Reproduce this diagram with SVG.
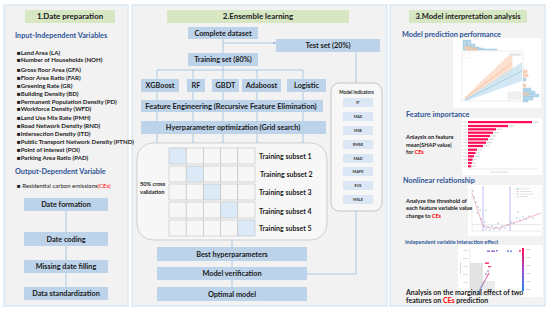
<svg xmlns="http://www.w3.org/2000/svg" width="550" height="310" viewBox="0 0 550 310">
<defs>
<style>
.panel{fill:#f2f2f2;stroke:#d2e4f3;stroke-width:1.2}
.title{fill:#d7e7c3}
.box{fill:#bdd3ea}
.t{font-family:Lato,"Open Sans","Liberation Sans",sans-serif;font-weight:700;fill:#1a1a1a}
.bt{font-size:7.3px;text-anchor:middle}
.tt{font-size:7.9px;text-anchor:middle}
.h{fill:#2f5597;font-size:7.3px}
.li{font-size:6.1px}
.red{fill:#ff0000}
.con{stroke:#8fb4dc;stroke-width:0.7;fill:none}
.cell{fill:#f7f7f7;stroke:#bfbfbf;stroke-width:0.6}
.hl{fill:#dce9f7}
.ind{fill:#dbe7f4}
.it{font-size:3.8px;text-anchor:middle;fill:#333}
.card{fill:#ffffff}
.bar{fill:#ff0d57}
.lbl{fill:#d9d9d9}
.dot{fill:#3d8fd6}
.sm{font-size:5.6px}
</style>
<marker id="arr" viewBox="0 0 6 6" refX="5.5" refY="3" markerWidth="4" markerHeight="4" orient="auto"><path d="M0,0 L6,3 L0,6 z" fill="#8fb4dc"/></marker>
<linearGradient id="cb" x1="0" y1="0" x2="0" y2="1"><stop offset="0" stop-color="#ff0d57"/><stop offset="0.5" stop-color="#a44bd0"/><stop offset="1" stop-color="#1e88e5"/></linearGradient>
<linearGradient id="dl" x1="0" y1="1" x2="1" y2="0"><stop offset="0" stop-color="#1e88e5"/><stop offset="1" stop-color="#ff0d57"/></linearGradient>
</defs>

<rect width="550" height="310" fill="#ffffff"/>

<g id="panels">
<rect class="panel" x="4" y="5" width="124" height="301"/>
<rect class="panel" x="132" y="5" width="255" height="301"/>
<rect class="panel" x="390" y="5" width="155" height="301"/>
</g>

<g id="panel1">
<rect class="title" x="25" y="10" width="90" height="13"/>
<text class="t tt" x="70" y="19.4">1.Date preparation</text>
<text class="t h" x="15" y="37.6">Input-Independent Variables</text>
<g class="t li">
<text x="17" y="54.8">■Land Area (LA)</text>
<text x="17" y="62.4">■Number of Households (NOH)</text>
<text x="17" y="71.8">■Gross floor Area (GFA)</text>
<text x="17" y="80.1">■Floor Area Ratio (FAR)</text>
<text x="17" y="87.8">■Greening Rate (GR)</text>
<text x="17" y="95.8">■Building Density (BD)</text>
<text x="17" y="103.8">■Permanent Population Density (PD)</text>
<text x="17" y="111.4">■Workforce Density (WFD)</text>
<text x="17" y="119.8">■Land Use Mix Rate (PMH)</text>
<text x="17" y="128.1">■Road Network Density (RND)</text>
<text x="17" y="136.1">■Intersection Density (ITD)</text>
<text x="17" y="144.1">■Public Transport Network Density (PTND)</text>
<text x="17" y="152.4">■Point of Interest (POI)</text>
<text x="17" y="160.4">■Parking Area Ratio (PAD)</text>
</g>
<text class="t h" x="15" y="173.6">Output-Dependent Variable</text>
<text class="t" x="17" y="188.2" style="font-weight:400;font-size:6px">■  Residential carbon emissions<tspan class="red">(CEs)</tspan></text>
</g>

<g id="connectors">
<line class="con" x1="66" y1="211" x2="66" y2="232"/>
<line class="con" x1="66" y1="246" x2="66" y2="260"/>
<line class="con" x1="66" y1="273" x2="66" y2="287"/>
<line class="con" x1="223" y1="39" x2="223" y2="70"/>
<line class="con" x1="223" y1="43" x2="276" y2="43" marker-end="url(#arr)"/>
<line class="con" x1="157" y1="70" x2="303" y2="70"/>
<line class="con" x1="157" y1="70" x2="157" y2="143"/>
<line class="con" x1="193" y1="70" x2="193" y2="143"/>
<line class="con" x1="223" y1="70" x2="223" y2="143"/>
<line class="con" x1="257" y1="70" x2="257" y2="143"/>
<line class="con" x1="303" y1="70" x2="303" y2="143"/>
<line class="con" x1="232" y1="240" x2="232" y2="287"/>
<line class="con" x1="356" y1="52" x2="356" y2="83"/>
<polyline class="con" points="356,211 356,274 307,274"/>
</g>

<g id="date-formation"><rect class="box" x="24" y="198" width="84" height="13"/><text class="t bt" x="66" y="207">Date  formation</text></g>
<g id="date-coding"><rect class="box" x="24" y="232" width="84" height="14"/><text class="t bt" x="66" y="241.5">Date  coding</text></g>
<g id="missing-date"><rect class="box" x="24" y="260" width="84" height="13"/><text class="t bt" x="66" y="269">Missing date filling</text></g>
<g id="data-std"><rect class="box" x="24" y="287" width="84" height="13"/><text class="t bt" x="66" y="296">Data standardization</text></g>

<g id="panel2-title">
<rect class="title" x="167" y="10" width="182" height="13"/>
<text class="t tt" x="258" y="19.4">2.Ensemble  learning</text>
</g>
<g id="complete-dataset"><rect class="box" x="188" y="27" width="70" height="12"/><text class="t bt" x="223" y="35.5">Complete  dataset</text></g>
<g id="test-set"><rect class="box" x="276" y="39" width="104" height="13"/><text class="t bt" x="328" y="48">Test  set (20%)</text></g>
<g id="training-set"><rect class="box" x="188" y="53" width="70" height="13"/><text class="t bt" x="223" y="62">Training set (80%)</text></g>
<g id="xgboost"><rect class="box" x="141" y="79" width="38" height="13"/><text class="t bt" x="160" y="88">XGBoost</text></g>
<g id="rf"><rect class="box" x="187" y="79" width="18" height="13"/><text class="t bt" x="196" y="88">RF</text></g>
<g id="gbdt"><rect class="box" x="212" y="79" width="27" height="13"/><text class="t bt" x="225.5" y="88">GBDT</text></g>
<g id="adaboost"><rect class="box" x="242" y="79" width="39" height="13"/><text class="t bt" x="261.5" y="88">Adaboost</text></g>
<g id="logistic"><rect class="box" x="287" y="79" width="39" height="13"/><text class="t bt" x="306.5" y="88">Logistic</text></g>
<g id="feature-eng"><rect class="box" x="141" y="100" width="182" height="12"/><text class="t bt" x="231" y="108.5" style="font-size:7.5px">Feature Engineering (Recursive Feature Elimination)</text></g>
<g id="hyper-opt"><rect class="box" x="141" y="121" width="185" height="13"/><text class="t bt" x="233" y="130">Hyerparameter optimization (Grid search)</text></g>

<g id="cross-validation">
<rect x="137" y="143" width="190" height="97" rx="16" fill="#f7f7f7" stroke="#bfbfbf" stroke-width="0.7"/>
<text class="t" x="140" y="186.2" style="font-size:5.6px">50% cross</text>
<text class="t" x="140" y="193.8" style="font-size:5.6px">validation</text>
<g>
<rect class="cell hl" x="169" y="148" width="17.2" height="16"/><rect class="cell" x="186.2" y="148" width="17.2" height="16"/><rect class="cell" x="203.4" y="148" width="17.2" height="16"/><rect class="cell" x="220.6" y="148" width="17.2" height="16"/><rect class="cell" x="237.8" y="148" width="17.2" height="16"/>
<rect class="cell" x="169" y="166" width="17.2" height="16"/><rect class="cell hl" x="186.2" y="166" width="17.2" height="16"/><rect class="cell" x="203.4" y="166" width="17.2" height="16"/><rect class="cell" x="220.6" y="166" width="17.2" height="16"/><rect class="cell" x="237.8" y="166" width="17.2" height="16"/>
<rect class="cell" x="169" y="184" width="17.2" height="16"/><rect class="cell" x="186.2" y="184" width="17.2" height="16"/><rect class="cell hl" x="203.4" y="184" width="17.2" height="16"/><rect class="cell" x="220.6" y="184" width="17.2" height="16"/><rect class="cell" x="237.8" y="184" width="17.2" height="16"/>
<rect class="cell" x="169" y="202" width="17.2" height="16"/><rect class="cell" x="186.2" y="202" width="17.2" height="16"/><rect class="cell" x="203.4" y="202" width="17.2" height="16"/><rect class="cell hl" x="220.6" y="202" width="17.2" height="16"/><rect class="cell" x="237.8" y="202" width="17.2" height="16"/>
<rect class="cell" x="169" y="220" width="17.2" height="16"/><rect class="cell" x="186.2" y="220" width="17.2" height="16"/><rect class="cell" x="203.4" y="220" width="17.2" height="16"/><rect class="cell" x="220.6" y="220" width="17.2" height="16"/><rect class="cell hl" x="237.8" y="220" width="17.2" height="16"/>
</g>
<g class="t" style="font-size:7px">
<text x="259" y="158.5">Training subset 1</text>
<text x="260" y="177">Training subset 2</text>
<text x="259" y="194.5">Training subset 3</text>
<text x="259" y="213.5">Training subset 4</text>
<text x="259" y="230.5">Training subset 5</text>
</g>
</g>

<g id="best-hyper"><rect class="box" x="157" y="247" width="150" height="14"/><text class="t bt" x="232" y="256.5">Best  hyperparameters</text></g>
<g id="model-verification"><rect class="box" x="157" y="267" width="150" height="13"/><text class="t bt" x="232" y="276">Model   verification</text></g>
<g id="optimal-model"><rect class="box" x="157" y="287" width="150" height="14"/><text class="t bt" x="232" y="296.5">Optimal   model</text></g>

<g id="model-indicators">
<rect x="331" y="83" width="51" height="128" rx="8" fill="#f7f7f7" stroke="#a6a6a6" stroke-width="0.6"/>
<text class="t" x="356.5" y="94.3" style="font-size:4.6px;text-anchor:middle">Model indicators</text>
<rect class="ind" x="343" y="98" width="30" height="9"/><text class="t it" x="358" y="103.9">R²</text>
<rect class="ind" x="343" y="112" width="30" height="9"/><text class="t it" x="358" y="117.9">MAE</text>
<rect class="ind" x="343" y="126" width="30" height="9"/><text class="t it" x="358" y="131.9">MSE</text>
<rect class="ind" x="343" y="140" width="30" height="9"/><text class="t it" x="358" y="145.9">RMSE</text>
<rect class="ind" x="343" y="154" width="30" height="9"/><text class="t it" x="358" y="159.9">MAD</text>
<rect class="ind" x="343" y="167" width="30" height="9"/><text class="t it" x="358" y="172.9">MAPE</text>
<rect class="ind" x="343" y="181" width="30" height="9"/><text class="t it" x="358" y="186.9">EVS</text>
<rect class="ind" x="343" y="195" width="30" height="9"/><text class="t it" x="358" y="200.9">MSLE</text>
</g>

<g id="panel3">
<rect class="title" x="409" y="10" width="118" height="13"/>
<text class="t tt" x="468" y="19.4" style="font-size:7.6px">3.Model  interpretation analysis</text>
<text class="t h" x="402" y="36.6">Model prediction performance</text>

<g id="chart-prediction">
<rect class="card" x="453" y="38" width="88" height="70"/>
<g fill="#b7d9ec" stroke="#7fb5d6" stroke-width="0.3">
<rect x="463" y="40" width="4" height="10"/><rect x="467" y="40" width="4" height="10"/><rect x="471" y="44" width="4" height="6"/><rect x="475" y="47" width="4" height="3"/><rect x="479" y="48" width="4" height="2"/><rect x="483" y="49" width="6" height="1"/><rect x="489" y="49" width="8" height="1"/>
<rect x="523" y="88" width="8" height="3"/><rect x="523" y="91" width="12" height="3"/><rect x="523" y="94" width="16" height="3"/><rect x="523" y="97" width="10" height="3"/><rect x="523" y="100" width="5" height="2"/><rect x="523" y="78" width="3" height="3"/>
</g>
<g fill="#f8cdb0" stroke="#eaa57a" stroke-width="0.3" fill-opacity="0.8">
<rect x="465" y="46" width="4" height="4"/><rect x="469" y="47" width="4" height="3"/><rect x="473" y="48" width="4" height="2"/>
<rect x="523" y="70" width="4" height="3"/><rect x="523" y="74" width="5" height="3"/><rect x="523" y="84" width="3" height="3"/><rect x="523" y="93" width="6" height="2"/>
</g>
<rect x="462" y="51" width="61" height="50" fill="#ffffff" stroke="#d0d0d0" stroke-width="0.4"/>
<polygon points="464,98 512,52 513,73 466,99" fill="#fbdcc8" fill-opacity="0.85"/>
<polygon points="464,100 522,62 522,81 466,101" fill="#cbe4f2" fill-opacity="0.85"/>
<line x1="465" y1="98.5" x2="512" y2="63" stroke="#f2a46f" stroke-width="0.5"/>
<line x1="465" y1="100" x2="522" y2="71" stroke="#7fb5d6" stroke-width="0.5"/>
<rect x="464" y="53" width="6" height="5" fill="none" stroke="#d8d8d8" stroke-width="0.3"/>
<rect x="509" y="53" width="12" height="3" fill="#e8e8e8"/>
<rect x="508" y="92" width="13" height="7" fill="#f0f0f0" stroke="#d8d8d8" stroke-width="0.3"/>
</g>

<g id="chart-importance">
<rect class="card" x="462" y="118" width="80" height="57"/>
<g class="bar">
<rect x="468" y="121" width="64" height="2.2"/><rect x="468" y="124.9" width="40" height="2.2"/><rect x="468" y="128.2" width="28" height="2.2"/><rect x="468" y="131.6" width="25" height="2.2"/><rect x="468" y="134.9" width="22" height="2.2"/><rect x="468" y="138.2" width="20" height="2.2"/><rect x="468" y="141.6" width="18" height="2.2"/><rect x="468" y="144.9" width="15" height="2.2"/><rect x="468" y="148.6" width="9" height="2.2"/><rect x="468" y="151.9" width="7.5" height="2.2"/><rect x="468" y="155.2" width="6" height="2.2"/><rect x="468" y="158.6" width="4.5" height="2.2"/><rect x="468" y="161.9" width="3.8" height="2.2"/><rect x="468" y="165.2" width="3.2" height="2.2"/>
</g>
<g class="lbl">
<rect x="533" y="121.5" width="6" height="1.2"/><rect x="509" y="125.4" width="5" height="1.2"/><rect x="497" y="128.7" width="5" height="1.2"/><rect x="494" y="132.1" width="5" height="1.2"/><rect x="491" y="135.4" width="5" height="1.2"/><rect x="489" y="138.7" width="5" height="1.2"/><rect x="487" y="142.1" width="5" height="1.2"/><rect x="484" y="145.4" width="5" height="1.2"/><rect x="478" y="149.1" width="4" height="1.2"/><rect x="476" y="152.4" width="4" height="1.2"/><rect x="475" y="155.7" width="4" height="1.2"/><rect x="473" y="159.1" width="4" height="1.2"/><rect x="472" y="162.4" width="4" height="1.2"/><rect x="472" y="165.7" width="4" height="1.2"/>
<rect x="463" y="121.5" width="4" height="1"/><rect x="463" y="125.4" width="4" height="1"/><rect x="463" y="128.7" width="4" height="1"/><rect x="463" y="132.1" width="4" height="1"/><rect x="463" y="135.4" width="4" height="1"/><rect x="463" y="138.7" width="4" height="1"/><rect x="463" y="142.1" width="4" height="1"/><rect x="463" y="145.4" width="4" height="1"/><rect x="463" y="149.1" width="4" height="1"/><rect x="463" y="152.4" width="4" height="1"/><rect x="463" y="155.7" width="4" height="1"/><rect x="463" y="159.1" width="4" height="1"/><rect x="463" y="162.4" width="4" height="1"/><rect x="463" y="165.7" width="4" height="1"/>
<rect x="490" y="171.5" width="18" height="1"/>
</g>
<line x1="468" y1="169" x2="538" y2="169" stroke="#cccccc" stroke-width="0.4"/>
</g>
<text class="t h" x="406" y="117.4">Feature  importance</text>
<g class="t sm">
<text x="406" y="139.2">Anlaysis on feature</text>
<text x="406" y="146.7">mean|SHAP value|</text>
<text x="406" y="154.2">for <tspan class="red">CEs</tspan></text>
</g>

<text class="t h" x="403" y="183.4">Nonlinear  relationship</text>
<g id="chart-nonlinear">
<rect class="card" x="468" y="185" width="74" height="51"/>
<line x1="472" y1="187" x2="472" y2="231" stroke="#cccccc" stroke-width="0.4"/>
<line x1="472" y1="231" x2="541" y2="231" stroke="#cccccc" stroke-width="0.4"/>
<line x1="472" y1="224.7" x2="541" y2="224.7" stroke="#d0d0d0" stroke-width="0.5"/>
<line x1="483" y1="186" x2="483" y2="231" stroke="#a99cf0" stroke-width="0.7"/>
<line x1="510" y1="186" x2="510" y2="231" stroke="#a99cf0" stroke-width="0.7"/>
<polyline points="472,193 476,205 480,217 483,226 490,228 500,228 510,224 520,221 530,217 541,213" fill="none" stroke="#f5a5b3" stroke-width="0.8"/>
<g class="dot">
<circle cx="473" cy="191" r="0.6"/><circle cx="474" cy="197" r="0.6"/><circle cx="476" cy="202" r="0.6"/><circle cx="478" cy="207" r="0.6"/><circle cx="477" cy="213" r="0.6"/><circle cx="480" cy="210" r="0.6"/><circle cx="481" cy="219" r="0.6"/><circle cx="484" cy="226" r="0.6"/><circle cx="485" cy="222" r="0.6"/><circle cx="486" cy="229" r="0.6"/><circle cx="488" cy="227" r="0.6"/><circle cx="490" cy="230" r="0.6"/><circle cx="492" cy="226" r="0.6"/><circle cx="494" cy="229" r="0.6"/><circle cx="496" cy="227" r="0.6"/><circle cx="498" cy="223" r="0.6"/><circle cx="500" cy="229" r="0.6"/><circle cx="502" cy="226" r="0.6"/><circle cx="505" cy="228" r="0.6"/><circle cx="508" cy="225" r="0.6"/><circle cx="511" cy="222" r="0.6"/><circle cx="514" cy="223" r="0.6"/><circle cx="517" cy="218" r="0.6"/><circle cx="520" cy="220" r="0.6"/><circle cx="523" cy="217" r="0.6"/><circle cx="526" cy="219" r="0.6"/><circle cx="529" cy="216" r="0.6"/><circle cx="533" cy="218" r="0.6"/><circle cx="486" cy="210" r="0.6"/><circle cx="518" cy="212" r="0.6"/>
</g>
<rect x="514" y="187" width="26" height="11" fill="#ffffff" stroke="#e0e0e0" stroke-width="0.3"/>
<g stroke-width="0.5"><line x1="516" y1="189" x2="519" y2="189" stroke="#3d8fd6"/><line x1="516" y1="191.5" x2="519" y2="191.5" stroke="#f5a5b3"/><line x1="516" y1="194" x2="519" y2="194" stroke="#a99cf0"/><line x1="516" y1="196.3" x2="519" y2="196.3" stroke="#cccccc"/></g>
<g class="lbl"><rect x="520" y="188.6" width="10" height="0.8"/><rect x="520" y="191.1" width="12" height="0.8"/><rect x="520" y="193.6" width="14" height="0.8"/><rect x="520" y="195.9" width="8" height="0.8"/></g>
</g>
<g class="t sm">
<text x="406" y="203.2">Analyze the threshold of</text>
<text x="406" y="210.2">each feature variable value</text>
<text x="406" y="217.7">change to <tspan class="red">CEs</tspan></text>
</g>

<text class="t" x="405" y="243.8" style="font-size:5.4px;fill:#2f5597">Independent variable interaction effect</text>
<g id="chart-interaction">
<rect class="card" x="458" y="245" width="85" height="52"/>
<rect x="470" y="263" width="13" height="33" fill="#e3e3e3"/>
<rect x="483" y="281" width="12" height="15" fill="#ebebeb"/>
<rect x="495" y="292" width="26" height="4" fill="#f0f0f0"/>
<line x1="470" y1="248" x2="470" y2="296" stroke="#cccccc" stroke-width="0.4"/>
<line x1="470" y1="296" x2="521" y2="296" stroke="#cccccc" stroke-width="0.4"/>
<line x1="478" y1="293" x2="489" y2="273" stroke="url(#dl)" stroke-width="1.2" stroke-dasharray="0.9 0.5"/>
<circle cx="486" cy="274" r="0.8" fill="#5e6fe0"/><circle cx="488" cy="271" r="0.8" fill="#8c55d4"/>
<rect x="488" y="266" width="3" height="1.3" fill="#ff3d7f"/>
<rect x="485" y="262.5" width="4" height="1.3" fill="#ff0d57"/>
<g fill="#8c55d4"><rect x="487" y="250.5" width="3" height="1.3"/><rect x="491" y="250.5" width="4" height="1.3"/><rect x="496" y="250" width="1.5" height="1.5"/></g>
<g fill="#5c7be0"><rect x="507" y="250.5" width="2" height="1.3"/><rect x="510" y="250.5" width="2" height="1.3"/></g>
<rect x="519" y="250" width="2" height="1.6" fill="#ff3d7f"/>
<rect x="522" y="248" width="2" height="43" fill="url(#cb)"/>
<g class="lbl"><rect x="526" y="249" width="5" height="0.9"/><rect x="526" y="257" width="5" height="0.9"/><rect x="526" y="265" width="5" height="0.9"/><rect x="526" y="273" width="5" height="0.9"/><rect x="526" y="281" width="5" height="0.9"/><rect x="526" y="289" width="5" height="0.9"/>
<rect x="463" y="250" width="5" height="0.9"/><rect x="463" y="258" width="5" height="0.9"/><rect x="463" y="266" width="5" height="0.9"/><rect x="463" y="274" width="5" height="0.9"/><rect x="463" y="282" width="5" height="0.9"/><rect x="460" y="262" width="0.9" height="12"/></g>
</g>
<g class="t" style="font-size:7px">
<text x="406" y="295.2">Analysis on the marginal effect of two</text>
<text x="406" y="302.5">features on <tspan class="red">CEs</tspan> prediction</text>
</g>
</g>
</svg>
